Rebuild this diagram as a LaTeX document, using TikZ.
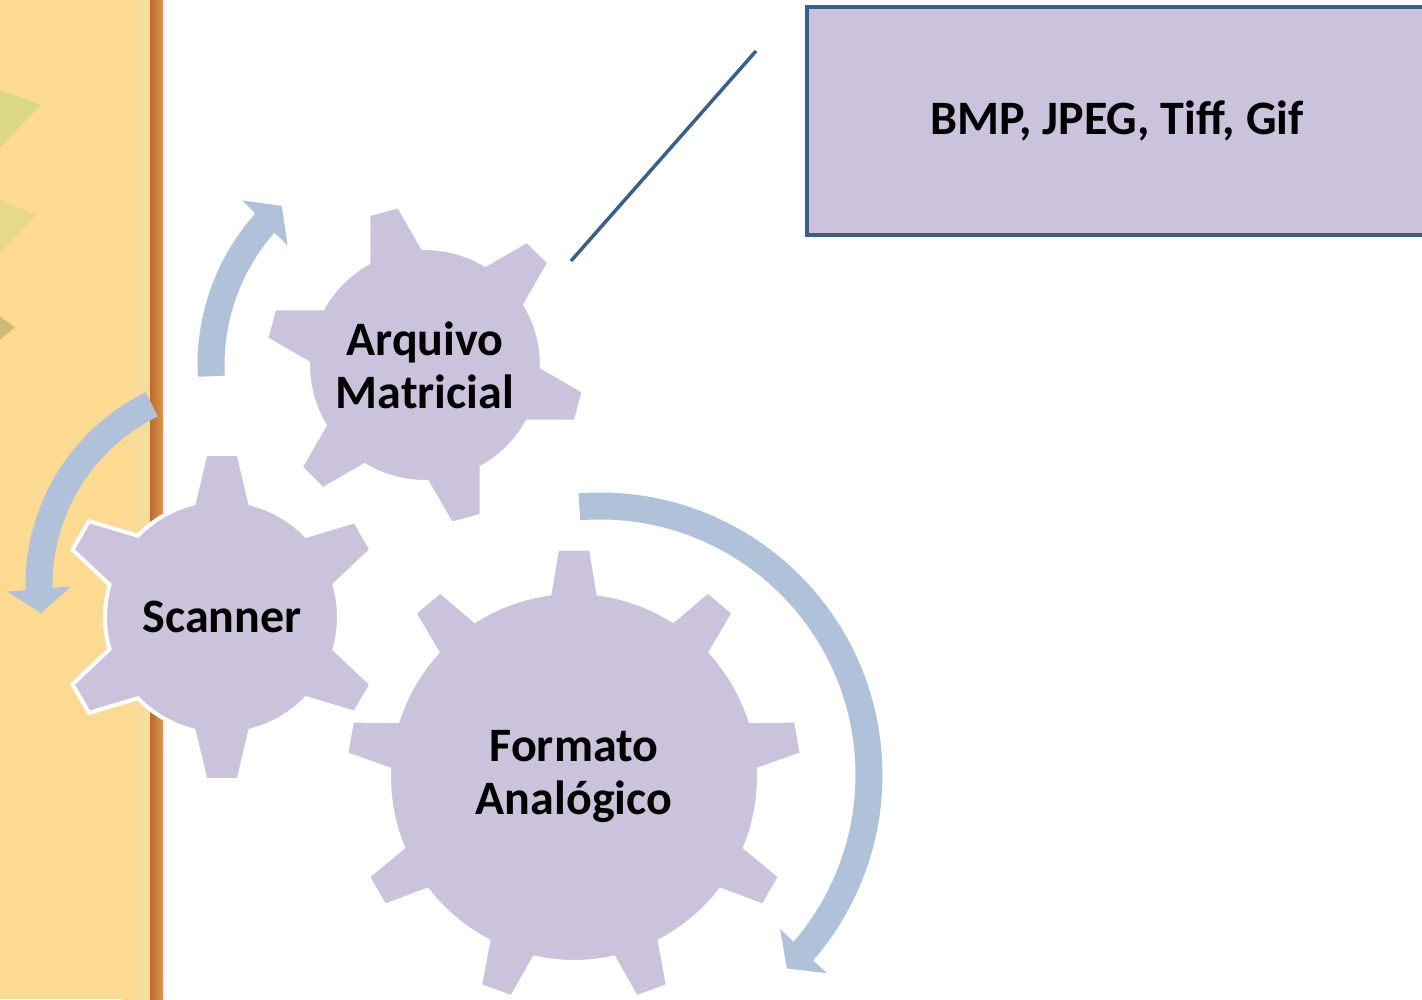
\documentclass[tikz,border=0pt]{standalone}
\usepackage{fontspec}
\setmainfont{Carlito}
\usepackage{tikz}
\usetikzlibrary{arrows.meta, bending, positioning}

\definecolor{gearfill}{HTML}{CBC2DB}
\definecolor{arrowblue}{HTML}{B0C1DA}
\definecolor{lineblue}{HTML}{3A5F8B}
\definecolor{stripyellow}{HTML}{FDDA91}
\definecolor{stripband}{HTML}{F6DC9E}
\definecolor{stripedge}{HTML}{D5772A}
\definecolor{leafgreen}{HTML}{C3D67F}

% gear outline: centre x, centre y, body radius, tip radius, teeth, first tooth angle, base half angle, tip half angle
\newcommand{\gearshape}[8]{%
  \path[gear, shift={(#1,#2)}] ({#6-#7}:#3)
    \foreach \k in {1,...,#5}{
      -- ({#6+(\k-1)*360/#5-#8}:#4) -- ({#6+(\k-1)*360/#5+#8}:#4)
      -- ({#6+(\k-1)*360/#5+#7}:#3)
      arc[start angle={#6+(\k-1)*360/#5+#7}, end angle={#6+\k*360/#5-#7}, radius=#3]
    } -- cycle;}

\begin{document}
\begin{tikzpicture}[
    x=1pt, y=1pt,
    every node/.style={font=\fontsize{48}{53}\selectfont\bfseries},
    gear/.style={fill=gearfill, draw=white, line width=4pt, line join=miter},
    gearlabel/.style={align=center, inner sep=0pt},
    cyclearrow/.style={draw=arrowblue, line width=27pt, -{Triangle[length=24pt, width=63pt, flex]}},
    formatbox/.style={rectangle, draw=lineblue, fill=gearfill, line width=3.5pt, minimum width=620pt, minimum height=228pt, inner sep=0pt},
    callout/.style={draw=lineblue, line width=3.5pt},
]
\clip (0,0) rectangle (1422,999);

% Background strip
\fill[white] (0,0) rectangle (1422,999);
\fill[stripyellow] (0,0) rectangle (150,999);
\shade[left color=stripyellow, right color=stripband] (122,0) rectangle (150,999);
\shade[left color=stripedge!90!black, right color=stripedge!80!white] (150,0) rectangle (163,999);
\fill[leafgreen, opacity=0.6] (0,909) -- (41,894) -- (0,852) -- cycle;
\fill[leafgreen!70!stripyellow, opacity=0.5] (0,799) -- (36,784) -- (0,746) -- cycle;
\fill[leafgreen!60!black, opacity=0.35] (0,682) -- (15,672) -- (0,659) -- cycle;

% Gear centres and labels
\coordinate (arqc) at (425,634);
\coordinate (scanc) at (222,382);
\coordinate (formc) at (574,222);

% Cycle arrows
\draw[cyclearrow] (arqc) ++(183:214) arc[start angle=183, end angle=132, radius=214];
\draw[cyclearrow] (240,414) ++(116:201) arc[start angle=116, end angle=188, radius=201];
\draw[cyclearrow] (600,224) ++(94.4:269) arc[start angle=94.4, end angle=-46, radius=269];

% Gears
\gearshape{425}{634}{117}{161}{6}{45}{14}{5.6}
\gearshape{222}{382}{117}{164}{6}{90}{14}{5.8}
\gearshape{574}{222}{185}{229}{9}{90}{7.6}{4.25}

\node[gearlabel] (arquivo) at (arqc) {Arquivo\\Matricial};
\node[gearlabel] (scanner) at (scanc) {Scanner};
\node[gearlabel] (formato) at (formc) {Formato\\Analógico};

% Format box and callout
\node[formatbox] (formats) at (1117,878) {\raisebox{-3pt}{BMP, JPEG, Tiff, Gif}};
\coordinate (calloutA) at (571,738);
\coordinate (calloutB) at (756,948);
\draw[callout] (calloutA) -- (calloutB);

\end{tikzpicture}
\end{document}
